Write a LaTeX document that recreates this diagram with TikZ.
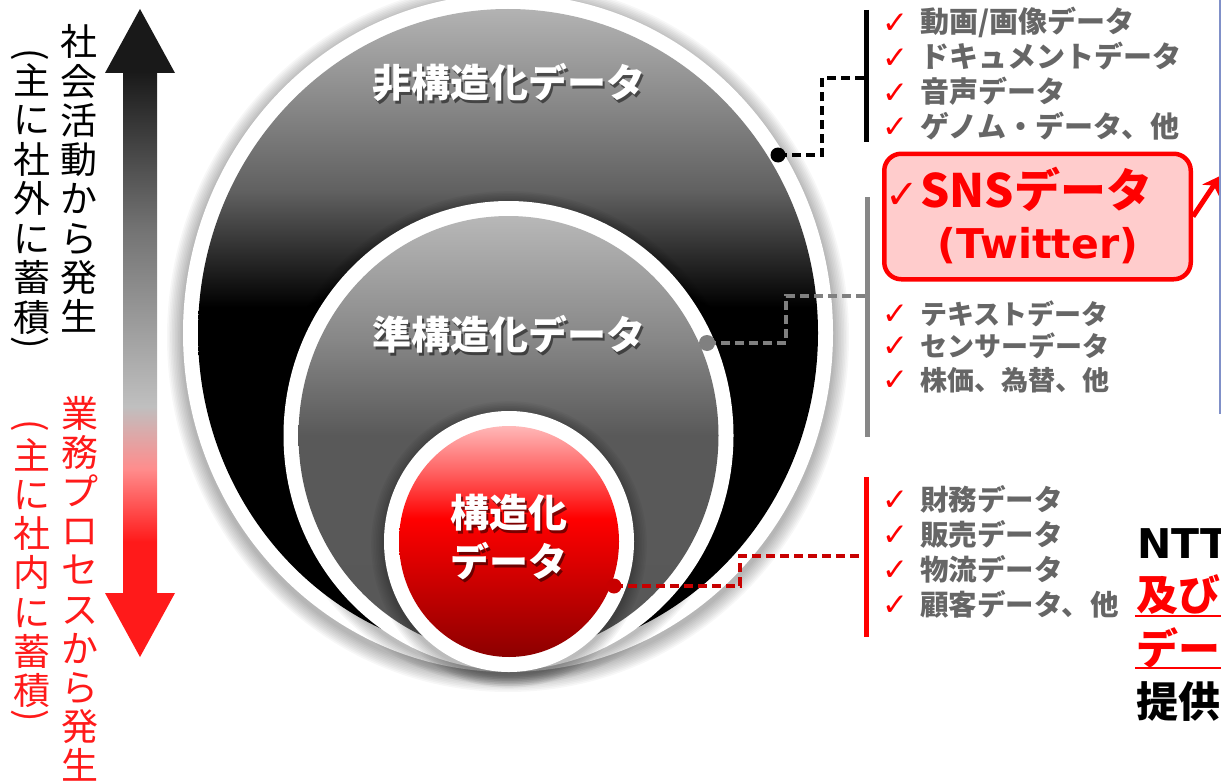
\documentclass[tikz,border=0pt]{standalone}
\usepackage{fontspec}
\setmainfont{Noto Sans CJK JP}
\newfontfamily\dvs{DejaVu Sans}
\usetikzlibrary{arrows.meta}
\definecolor{listgray}{HTML}{666666}
\definecolor{snspink}{HTML}{FFCCCC}
\definecolor{dred}{HTML}{C80000}
\definecolor{arrred}{HTML}{FF1A1A}
\definecolor{barblue}{HTML}{8090C8}
\definecolor{dgray}{HTML}{808080}
\pgfdeclareverticalshading{outershade}{100bp}{color(0bp)=(black); color(52bp)=(black); color(61bp)=(black!62); color(75bp)=(black!30); color(100bp)=(black!30)}
\pgfdeclareverticalshading{midshade}{100bp}{color(0bp)=(black!66); color(50bp)=(black!65); color(61bp)=(black!47); color(75bp)=(black!28); color(100bp)=(black!28)}
\pgfdeclareverticalshading{redshade}{100bp}{color(0bp)=(red!55!black); color(25bp)=(red!55!black); color(46bp)=(red!87!black); color(55bp)=(red); color(65bp)=(red!62!white); color(75bp)=(red!28!white); color(100bp)=(red!28!white)}
\pgfdeclareverticalshading{arrowshade}{100bp}{color(0bp)=(arrred); color(30bp)=(arrred); color(37bp)=(arrred!50!white); color(43bp)=(black!25); color(60bp)=(black!55); color(75bp)=(black!90); color(100bp)=(black!90)}
\begin{document}
\begin{tikzpicture}[x=1pt,y=-1pt,
  vt/.style={inner sep=0pt, font=\fontsize{37}{37}\selectfont, text height=32pt, text depth=4pt},
  vtred/.style={vt, text=arrred},
  lbl/.style={inner sep=0pt, font=\bfseries\fontsize{39}{39}\selectfont, text=white, text height=34pt, text depth=5pt},
  lblsh/.style={lbl, text=black, opacity=.5},
  item/.style={inner sep=0pt, anchor=west, font=\bfseries\fontsize{27}{27}\selectfont, text=listgray, text height=23.5pt, text depth=3.5pt},
  itemA/.style={item, font=\bfseries\fontsize{29}{29}\selectfont},
  itemC/.style={item, font=\bfseries\fontsize{28.5}{28.5}\selectfont},
  chk/.style={inner sep=0pt, font=\dvs\bfseries\fontsize{31}{31}\selectfont, text=red},
  dashline/.style={line width=3.2pt, dash pattern=on 9pt off 5pt},
  vbar/.style={line width=5pt},
  big/.style={inner sep=0pt, anchor=base west, font=\bfseries\fontsize{42}{42}\selectfont}
]
\useasboundingbox (0,0) rectangle (1221,784);
\fill[white] (0,0) rectangle (1221,784);

% ---------- left arrow ----------
\shade[shading=arrowshade] (123,72) rectangle (157,594);
\fill[black!90] (105,73) -- (140,9) -- (175,73) -- cycle;
\fill[arrred] (105,593) -- (140,657) -- (175,593) -- cycle;

% ---------- left vertical texts ----------
\foreach \c [count=\i from 0] in {社,会,活,動,か,ら,発,生}
  \node[vt] (ca\i) at (79,{42+39.2*\i}) {\c};
\node[vt, rotate=-90] (pa1) at (32,55) {(};
\foreach \c [count=\i from 0] in {主,に,社,外,に,蓄,積}
  \node[vt] (cb\i) at (32,{80+39.5*\i}) {\c};
\node[vt, rotate=-90] (pa2) at (32,343) {)};

\foreach \c [count=\i from 0] in {業,務,プ,ロ,セ,ス,か,ら,発,生}
  \node[vtred] (cc\i) at (80,{413+39.2*\i}) {\c};
\node[vtred, rotate=-90] (pa3) at (32,426) {(};
\foreach \c [count=\i from 0] in {主,に,社,内,に,蓄,積}
  \node[vtred] (cd\i) at (32,{455+39.3*\i}) {\c};
\node[vtred, rotate=-90] (pa4) at (32,716) {)};

% ---------- nested ellipses ----------
\coordinate (cO) at (508,333);
\coordinate (cM) at (508.5,435.5);
\coordinate (cR) at (509,541.5);
\foreach \k in {1,...,10}
  \fill[black,opacity=.03] (508,337) ellipse [x radius={325+1.6*\k}, y radius={339+1.6*\k}];
\fill[white] (cO) ellipse [x radius=325, y radius=339];
\shade[shading=outershade] (cO) ellipse [x radius=310, y radius=324];

\foreach \k in {1,...,8}
  \fill[black,opacity=.035] (508.5,438.5) ellipse [x radius={225+1.6*\k}, y radius={234.5+1.6*\k}];
\fill[white] (cM) ellipse [x radius=225, y radius=234.5];
\shade[shading=midshade] (cM) ellipse [x radius=210, y radius=219.5];

\foreach \k in {1,...,8}
  \fill[black,opacity=.035] (509,544.5) ellipse [x radius={125+1.6*\k}, y radius={130.5+1.6*\k}];
\fill[white] (cR) ellipse [x radius=125, y radius=130.5];
\shade[shading=redshade] (cR) ellipse [x radius=110, y radius=115.5];

% labels on ellipses
\node[lblsh] (l1s) at (511,86) {非構造化データ};
\node[lbl] (l1) at (509,83) {非構造化データ};
\node[lblsh] (l2s) at (511,338) {準構造化データ};
\node[lbl] (l2) at (509,335) {準構造化データ};
\node[lblsh] (l3s) at (511,515.5) {構造化};
\node[lbl] (l3) at (509,512.5) {構造化};
\node[lblsh] (l4s) at (511,565) {データ};
\node[lbl] (l4) at (509,562) {データ};

% ---------- connectors ----------
\coordinate (dB) at (778,155);
\coordinate (dG) at (707,343);
\coordinate (dR) at (614,586);
\coordinate (bB) at (866,78);
\coordinate (bG) at (867,296);
\coordinate (bR) at (866,556);
\draw[dashline, black] (dB) -- ++(44,0) |- (bB);
\draw[dashline, dgray] (dG) -- ++(79,0) |- (bG);
\draw[dashline, dred] (dR) -- ++(126,0) |- (bR);
\fill[black] (dB) circle [radius=7.5];
\fill[dgray] (dG) circle [radius=8];
\fill[dred] (dR) circle [radius=7.5];

\draw[vbar, black] (866,10) -- (866,142);
\draw[vbar, black!47] (867,197) -- (867,437);
\draw[vbar, red] (866,477) -- (866,637);

% ---------- lists ----------
\node[chk] (k1) at (895,24) {✓};   \node[itemA] (t1) at (920,23) {動画/画像データ};
\node[chk] (k2) at (895,59) {✓};   \node[itemA] (t2) at (920,58) {ドキュメントデータ};
\node[chk] (k3) at (895,93.5) {✓}; \node[itemA] (t3) at (920,92.5) {音声データ};
\node[chk] (k4) at (895,128) {✓};  \node[itemA] (t4) at (920,127) {ゲノム・データ、他};

\node[chk] (k5) at (895,315) {✓};  \node[item] (t5) at (920,314) {テキストデータ};
\node[chk] (k6) at (895,347) {✓};  \node[item] (t6) at (920,346) {センサーデータ};
\node[chk] (k7) at (895,381) {✓};  \node[item] (t7) at (920,380) {株価、為替、他};

\node[chk] (k8) at (895,501) {✓};  \node[itemC] (t8) at (920,500) {財務データ};
\node[chk] (k9) at (895,536) {✓};  \node[itemC] (t9) at (920,535) {販売データ};
\node[chk] (k10) at (895,571) {✓}; \node[itemC] (t10) at (920,570) {物流データ};
\node[chk] (k11) at (895,606) {✓}; \node[itemC] (t11) at (920,605) {顧客データ、他};

% ---------- SNS box ----------
\node[draw=red, line width=4.5pt, fill=snspink, rounded corners=17pt, minimum width=306.5pt, minimum height=125.5pt, inner sep=0pt] (sns) at (1037.5,216.5) {};
\node[inner sep=0pt, font=\dvs\fontsize{40}{40}\selectfont, text=red] (snsck) at (902,196) {✓};
\node[inner sep=0pt, anchor=base west, font=\bfseries\fontsize{46}{46}\selectfont, text=red] (snst) at (920,207) {SNSデータ};
\node[inner sep=0pt, anchor=base, font=\dvs\bfseries\fontsize{41}{41}\selectfont, text=red] (tw) at (1038,258) {(Twitter)};
\coordinate (arrEnd) at (1220,176);
\draw[red, line width=5pt, -{Stealth[length=17pt,width=20pt]}] (sns.east) -- (arrEnd);
\draw[barblue, line width=2pt] (1219.5,0) -- (1219.5,414);

% ---------- right texts ----------
\node[big, font=\dvs\bfseries\fontsize{41}{41}\selectfont] (ntt) at (1137,558) {NTT};
\node[big, text=red] (oyobi) at (1136,610) {及び};
\draw[red, line width=2pt] (1135,616) -- (1221,616);
\node[big, text=red] (dee) at (1136,664) {デー};
\draw[red, line width=2pt] (1135,668) -- (1221,668);
\node[big] (teikyo) at (1136,717) {提供};
\end{tikzpicture}
\end{document}
